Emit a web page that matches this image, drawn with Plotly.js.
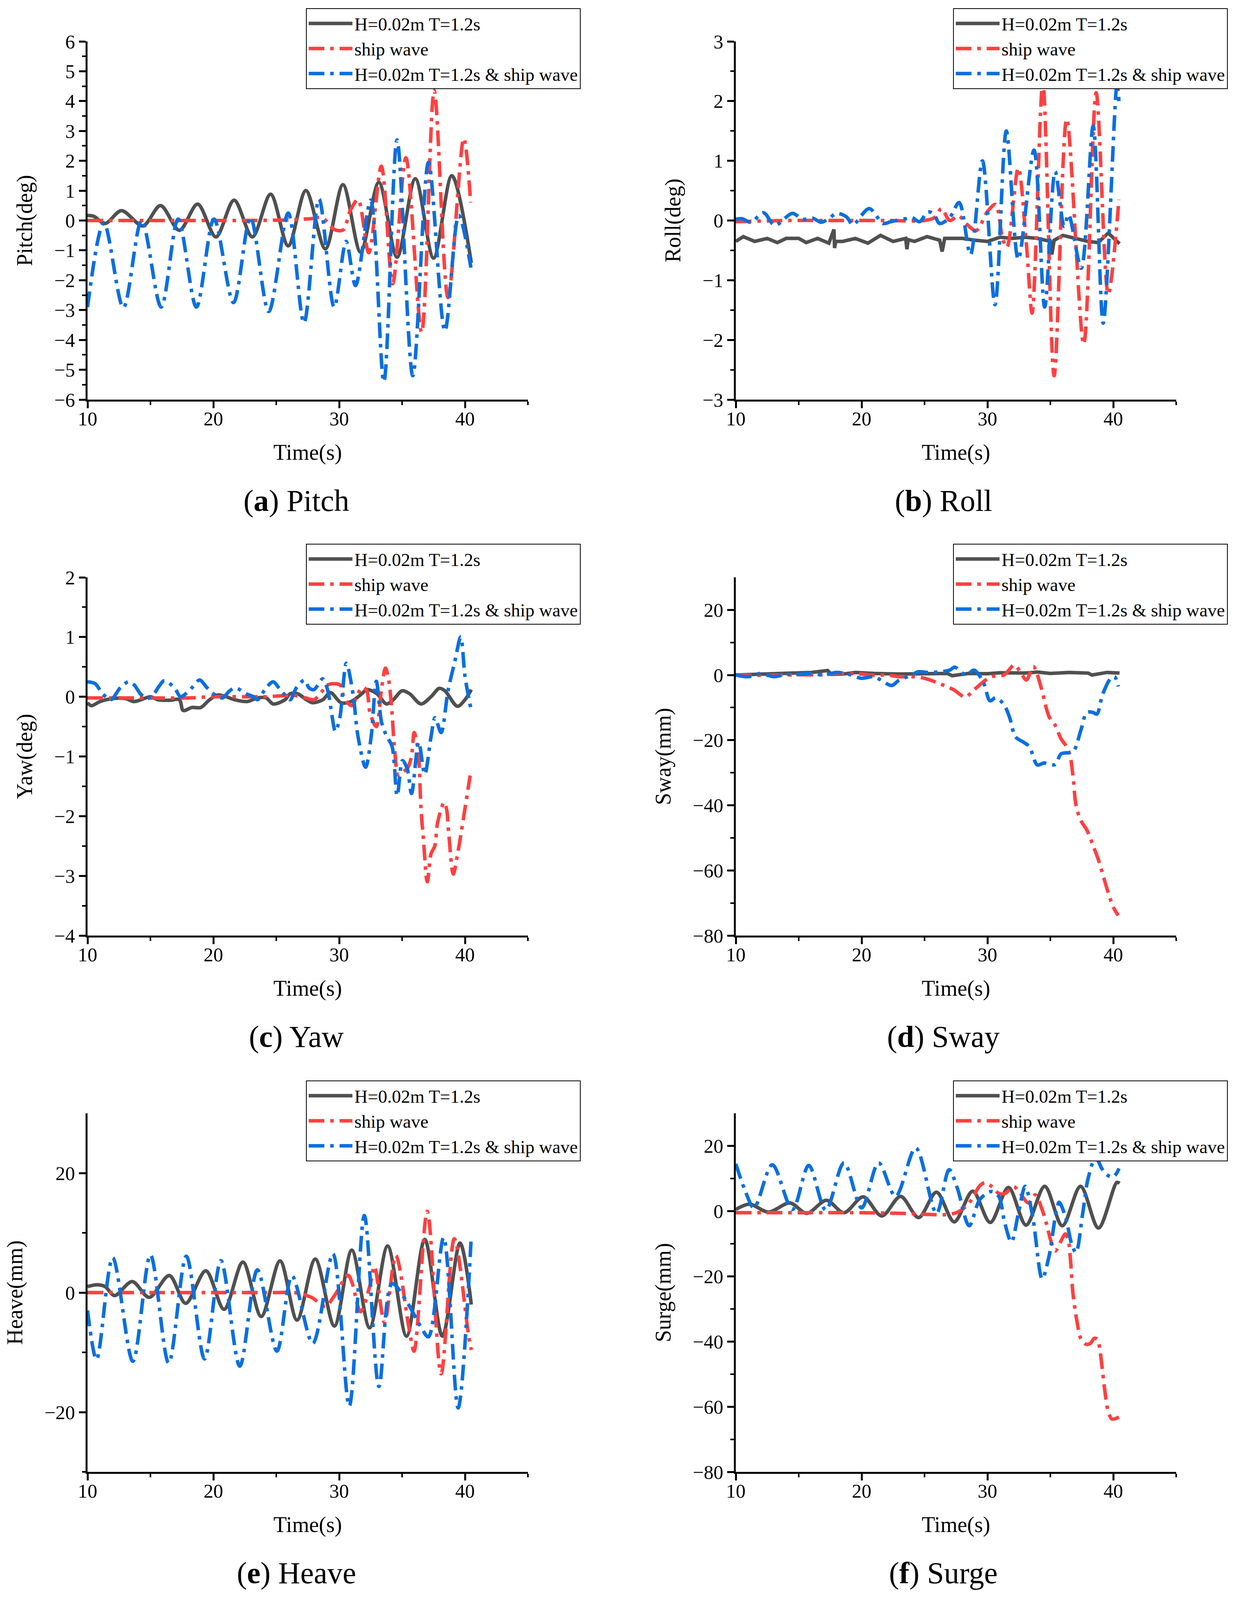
<!DOCTYPE html>
<html>
<head>
<meta charset="utf-8">
<script src="https://cdn.plot.ly/plotly-3.0.1.min.js"></script>
<style>
html,body{margin:0;padding:0;background:#ffffff;}
#chart{width:3181px;height:4097px;}
</style>
</head>
<body>
<div id="chart"></div>
<script>
// ---------- series names ----------
const seriesNames = ['H=0.02m T=1.2s', 'ship wave', 'H=0.02m T=1.2s & ship wave'];

// ---------- (a) Pitch ----------
const pitchRegT = [10, 10.5, 11.4, 12.7, 14.4, 15.8, 17.3, 18.75, 20.2, 21.65, 23.1, 24.55, 25.95, 27.35, 28.9, 30.3, 31.7, 33.15, 34.6, 36.05, 37.5, 38.95, 40.5];
const pitchRegY = [0.17, 0.14, -0.1, 0.33, -0.18, 0.5, -0.33, 0.55, -0.55, 0.68, -0.55, 0.88, -0.85, 1.0, -0.95, 1.2, -1.06, 1.28, -1.23, 1.4, -1.26, 1.5, -1.42];
const pitchShipT = [10, 14, 18, 22, 26, 27.7, 28.6, 29.2, 29.6, 30.3, 30.9, 31.5, 32.35, 33.35, 34.25, 35.3, 36.55, 37.55, 38.65, 39.9, 40.45];
const pitchShipY = [0, 0, 0, 0, 0.02, 0.06, 0.1, -0.12, -0.3, -0.32, 0.35, 0.7, -1.08, 1.82, -2.12, 2.1, -3.75, 4.35, -2.58, 2.75, 0.6];
const pitchCombT = [10, 11.3, 12.85, 14.3, 15.85, 17.2, 18.65, 20.05, 21.6, 22.95, 24.4, 25.95, 27.2, 28.4, 29.6, 30.55, 31.3, 32.5, 33.55, 34.6, 35.85, 37.1, 38.4, 39.5, 40.47];
const pitchCombY = [-2.9, -0.08, -2.92, 0, -2.9, 0.05, -2.9, 0.05, -2.75, 0.1, -3.05, 0.25, -3.43, 0.72, -2.9, -0.7, -2.18, 0.68, -5.4, 2.7, -5.2, 1.95, -3.7, 0.17, -1.58];

// ---------- (b) Roll ----------
const rollRegT = [10, 10.6, 11.5, 12.5, 13.3, 14.0, 15.0, 15.6, 16.5, 17.4, 17.8, 17.85, 17.95, 18.5, 19.5, 20.5, 21.5, 22.5, 23.5, 23.6, 23.7, 24.2, 25.2, 26.2, 26.4, 26.6, 27.0, 28.0, 29.0, 30.0, 31.0, 32.0, 33.0, 34.0, 35.0, 35.12, 35.3, 36.0, 37.0, 38.0, 38.8, 39.6, 40.5];
const rollRegY = [-0.35, -0.27, -0.35, -0.3, -0.37, -0.3, -0.3, -0.37, -0.3, -0.38, -0.15, -0.46, -0.35, -0.35, -0.3, -0.38, -0.25, -0.35, -0.3, -0.48, -0.32, -0.35, -0.27, -0.33, -0.52, -0.3, -0.3, -0.3, -0.33, -0.35, -0.28, -0.3, -0.28, -0.3, -0.35, -0.57, -0.33, -0.25, -0.3, -0.35, -0.37, -0.21, -0.39];
const rollShipT = [10, 14, 18, 22, 25, 25.8, 26.35, 27.0, 27.7, 28.3, 29.1, 30.0, 30.65, 31.2, 31.55, 32.45, 33.1, 33.55, 34.4, 35.3, 36.3, 37.65, 38.64, 39.6, 40.45];
const rollShipY = [-0.02, 0.0, 0.0, 0.0, 0.0, 0.05, 0.2, 0.0, 0.08, -0.05, -0.17, 0.15, 0.27, -0.3, -0.45, 0.88, -0.41, -1.55, 2.3, -2.6, 1.7, -2.07, 2.14, -1.23, 0.35];
const rollCombT = [10, 10.5, 11.2, 12.2, 13.1, 14.5, 15.3, 16.1, 16.8, 17.5, 18.0, 18.8, 19.3, 20.6, 21.7, 22.3, 23.5, 24.0, 24.6, 25.25, 25.7, 26.2, 27.0, 27.75, 28.65, 29.6, 30.6, 31.5, 32.45, 33.7, 34.55, 35.38, 36.1, 36.45, 37.45, 38.4, 39.2, 40.3, 40.45];
const rollCombY = [0.02, 0.03, -0.03, 0.13, -0.08, 0.12, 0.02, 0.04, -0.03, 0.05, 0.12, 0.06, -0.07, 0.2, -0.05, -0.02, 0.03, 0.05, -0.02, 0.14, 0.12, -0.05, 0.05, 0.3, -0.57, 1.0, -1.41, 1.5, -0.65, 1.18, -1.45, 0.82, -0.1, 0.1, -0.8, 1.58, -1.72, 2.3, 2.0];

// ---------- (c) Yaw ----------
const yawRegT = [10, 10.3, 11, 12, 13, 13.7, 14.5, 15, 15.6, 16.5, 17.3, 17.6, 18.3, 19, 19.7, 20.35, 21, 21.7, 22.7, 23.5, 24.2, 24.75, 25.7, 26.1, 26.7, 27.4, 27.9, 28.7, 29.3, 30.15, 30.95, 31.8, 32.2, 33.0, 33.75, 34.3, 35.0, 35.6, 36.5, 37.3, 37.95, 38.4, 39.4, 40.0, 40.5];
const yawRegY = [-0.1, -0.15, -0.08, -0.03, -0.03, -0.08, -0.03, 0, -0.05, -0.06, -0.05, -0.23, -0.18, -0.18, -0.05, 0.03, 0, -0.05, -0.08, -0.02, -0.02, -0.12, -0.05, 0.05, 0.05, -0.05, -0.1, -0.05, 0.07, -0.1, -0.08, 0.05, 0.12, 0.05, -0.12, -0.05, 0.1, 0.05, -0.12, 0.0, 0.14, 0.1, -0.16, -0.05, 0.12];
const yawShipT = [10, 14, 18, 20, 24, 26.5, 27.5, 28.0, 28.6, 29.1, 30.05, 30.4, 31.0, 31.5, 31.9, 32.2, 32.45, 32.95, 33.37, 33.68, 33.95, 34.2, 34.4, 34.7, 35.0, 35.45, 35.75, 35.96, 36.27, 36.5, 36.7, 37.0, 37.3, 37.6, 37.82, 38.34, 38.55, 38.7, 39.07, 39.38, 39.7, 40.0, 40.41];
const yawShipY = [-0.02, -0.02, -0.02, 0, 0, 0.02, -0.03, -0.05, 0.08, 0.2, 0.2, -0.02, -0.15, 0.06, 0.16, 0.1, -0.27, -0.5, 0.14, 0.48, 0.26, -0.27, -0.87, -1.31, -1.27, -1.19, -0.99, -0.6, -0.9, -1.87, -2.4, -3.1, -2.63, -2.5, -2.11, -1.77, -1.9, -2.27, -2.97, -2.67, -2.27, -1.87, -1.32];
const yawCombT = [10, 10.6, 11.2, 11.85, 12.6, 13.25, 13.7, 14.2, 14.7, 15.1, 15.7, 16.1, 16.9, 17.4, 17.8, 18.3, 18.9, 19.5, 20.0, 20.7, 21.3, 21.75, 22.6, 23.2, 23.5, 24.2, 24.75, 25.2, 25.6, 26.1, 26.6, 27.25, 27.6, 28.0, 28.7, 29.1, 29.33, 29.7, 30.05, 30.57, 31.09, 31.5, 32.1, 32.54, 32.95, 33.37, 33.75, 34.2, 34.61, 35.03, 35.4, 35.75, 36.32, 36.8, 37.3, 37.62, 38.1, 38.65, 39.2, 39.66, 40.0, 40.47];
const yawCombY = [0.25, 0.22, 0.05, -0.05, 0.15, 0.25, 0.2, 0.05, -0.03, 0.0, 0.18, 0.27, 0.15, 0.0, 0.05, 0.15, 0.28, 0.15, 0.05, -0.02, 0.1, 0.15, 0.05, 0.0, -0.05, 0.15, 0.25, 0.15, 0.05, -0.05, 0.15, 0.28, 0.15, 0.12, 0.3, 0.1, -0.18, -0.58, -0.35, 0.56, 0.06, -0.67, -1.18, -0.67, 0.26, -0.43, -0.65, -0.83, -1.66, -1.07, -1.2, -1.62, -0.76, -1.3, -0.67, -0.35, -0.6, 0.1, 0.6, 1.0, 0.34, -0.2];

// ---------- (d) Sway ----------
const swayRegT = [10, 12, 14, 16, 17.3, 17.6, 18.5, 19.5, 21, 23, 25, 26.8, 27.2, 28.5, 30, 31, 33, 34, 35, 36.5, 38, 38.3, 39.5, 40.5];
const swayRegY = [0, 0.2, 0.5, 0.8, 1.4, 0.2, 0.3, 0.8, 0.5, 0.3, 0.4, 0.5, -0.2, 0.5, 0.4, 0.7, 0.6, 0.9, 0.5, 0.8, 0.6, 0.0, 0.8, 0.6];
const swayShipT = [10, 13, 15, 17, 18, 20, 21, 22, 23, 24, 25, 26.1, 27.3, 28.25, 28.8, 29.7, 30.3, 31.3, 32.15, 32.6, 33.1, 33.65, 34.28, 34.6, 34.9, 35.38, 35.85, 36.3, 36.57, 36.8, 37.04, 37.4, 37.9, 38.36, 38.84, 39.3, 39.78, 40.1, 40.4];
const swayShipY = [0, -0.1, 0.1, 0.1, 0.5, 0.3, -0.1, 0, -0.5, -0.5, -1.0, -2.5, -4.5, -6.8, -5, -2, -0.5, 0, 3.1, 1, -1.5, 2.6, -4, -9, -12.8, -15.4, -19.6, -22, -24.8, -31, -40, -44.5, -47.6, -52, -57, -63, -69, -72, -73.8];
const swayCombT = [10, 11, 12, 13, 14, 15, 16, 17, 18, 19, 20, 21, 21.7, 22.4, 23, 24, 24.5, 25.3, 26.3, 27.0, 27.4, 28.3, 28.95, 29.7, 30.2, 30.66, 31.3, 31.76, 32.23, 32.86, 33.33, 33.96, 34.5, 35.38, 35.85, 36.8, 37.42, 37.9, 38.4, 38.7, 39.15, 39.78, 40.1, 40.4];
const swayCombY = [0, -0.5, 0.5, -0.5, 0.2, 0.2, 0.5, 0, 0.8, 0.2, -1.0, -0.5, -2, -3.2, -1.5, 0, 1, 0.8, 1, 1.5, 2.4, 0, 1.5, -2.5, -7.9, -7, -9, -13, -19, -20.6, -22, -27.6, -27, -27.5, -24.2, -23.5, -17, -11.5, -11.5, -12, -6, -1.1, -0.5, -3.5];

// ---------- (e) Heave ----------
const heaveRegT = [10, 10.8, 11.4, 12.15, 13.55, 14.9, 16.5, 17.8, 19.4, 20.85, 22.35, 23.8, 25.3, 26.65, 28.1, 29.62, 31.0, 32.42, 33.85, 35.35, 36.8, 38.2, 39.6, 40.5];
const heaveRegY = [1, 1.3, 1.0, -0.5, 1.84, -0.8, 2.86, -1.8, 3.65, -2.8, 5.1, -4.0, 5.3, -4.6, 5.6, -5.6, 7.1, -5.9, 7.8, -7.3, 8.9, -7.3, 8.3, -2];
const heaveShipT = [10, 15, 20, 25, 26.5, 27.8, 28.9, 29.6, 30.7, 31.0, 31.7, 32.45, 32.8, 33.6, 34.5, 35.54, 35.95, 37.0, 38.1, 39.15, 40.3, 40.5];
const heaveShipY = [0, 0, 0, 0, 0, -0.8, -2.3, -0.6, 2.9, 1.8, -3.2, 1.2, 4.4, -5.0, 6.2, -5.8, -9.8, 13.6, -13.6, 9.0, -7.4, -9.6];
const heaveCombT = [10, 10.72, 12.0, 13.6, 15.0, 16.45, 17.85, 19.3, 20.6, 22.1, 23.5, 25.05, 26.25, 27.9, 29.5, 30.8, 32.0, 33.16, 34.2, 35.45, 36.4, 37.1, 38.3, 39.45, 40.5];
const heaveCombY = [-3, -11.2, 5.85, -11.5, 6.3, -11.8, 6.1, -11.1, 5.35, -12.3, 3.8, -9.8, 2.8, -8.5, 6.5, -19.0, 12.9, -15.7, 1.5, -1.8, -5.4, -7.4, 9.2, -19.3, 9.5];

// ---------- (f) Surge ----------
const surgeRegT = [10, 11.1, 12.6, 14.3, 15.65, 17.2, 18.6, 20.13, 21.6, 23.1, 24.53, 25.95, 27.36, 28.83, 30.22, 31.67, 33.07, 34.55, 35.95, 37.4, 38.82, 40.28, 40.5];
const surgeRegY = [0.5, 2.1, -0.3, 2.5, -0.7, 3.3, -0.5, 4.35, -1.5, 4.5, -2, 5.8, -3.3, 6.1, -3.5, 7.25, -4.3, 7.6, -4.5, 7.6, -5.2, 8.8, 8.5];
const surgeShipT = [10, 15, 20, 24, 25, 27, 27.8, 28.6, 29.4, 29.8, 30.36, 30.9, 31.4, 32.07, 32.5, 33.26, 33.8, 34.35, 34.7, 35.07, 35.4, 35.8, 36.2, 36.42, 36.6, 36.8, 37.1, 37.45, 37.87, 38.2, 38.5, 38.76, 38.9, 39.1, 39.3, 39.6, 39.9, 40.45];
const surgeShipY = [-0.5, -0.5, -0.5, -0.8, -1.0, -1.0, 0, 2.8, 7.8, 8.7, 7.5, 5.4, 5.4, 7.5, 6, 2.5, 5, 0.4, -4, -9.5, -12.2, -9.5, -7, -8.8, -15, -25.4, -33.5, -39.4, -40.9, -40.5, -39, -39.4, -41.6, -47.5, -54.2, -61.5, -63.8, -63.2];
const surgeCombT = [10, 10.7, 11.45, 12.9, 14.5, 15.8, 17.15, 18.6, 20.0, 21.35, 22.7, 24.3, 25.95, 26.95, 27.6, 28.55, 29.4, 30.3, 30.9, 31.35, 31.9, 32.48, 33.0, 33.6, 34.35, 34.87, 35.49, 35.7, 36.2, 36.73, 37.04, 37.56, 38.0, 38.6, 39.1, 39.5, 39.94, 40.25, 40.45];
const surgeCombY = [14.5, 6.7, 1.0, 14.2, 0.5, 14, 0.3, 14.8, 1, 14.8, 4.5, 19.4, -0.7, 12.7, 7.1, -4.5, 3.6, 6.0, 4.5, -3.2, -9.5, -0.3, 7.6, -1.8, -20.8, -14.3, 0.4, 2.7, -1.8, -10.6, -12.7, -1, 10, 16.4, 13, 11.1, 10.4, 11.5, 13.1];

// ---------- minor tick positions ----------
const degMinor = [-5.5, -4.5, -3.5, -2.5, -1.5, -0.5, 0.5, 1.5, 2.5, 3.5, 4.5, 5.5];
const mmMinorSway = [-70, -50, -30, -10, 10];
const mmMinorHeave = [-30, -10, 10];
const timeMinor = [15, 25, 35, 45];

// ---------- panel definitions ----------
const panels = [
  {id:'', reg:[pitchRegT,pitchRegY], ship:[pitchShipT,pitchShipY], comb:[pitchCombT,pitchCombY], ytitle:'Pitch(deg)', yrange:[-6,6], dtick:1, tick0:0, minor:degMinor, caption:'(<b>a</b>) Pitch', col:0, row:0, regShape:'spline'},
  {id:'2', reg:[rollRegT,rollRegY], ship:[rollShipT,rollShipY], comb:[rollCombT,rollCombY], ytitle:'Roll(deg)', yrange:[-3,3], dtick:1, tick0:0, minor:degMinor, caption:'(<b>b</b>) Roll', col:1, row:0, regShape:'linear'},
  {id:'3', reg:[yawRegT,yawRegY], ship:[yawShipT,yawShipY], comb:[yawCombT,yawCombY], ytitle:'Yaw(deg)', yrange:[-4,2], dtick:1, tick0:0, minor:degMinor, caption:'(<b>c</b>) Yaw', col:0, row:1, regShape:'spline'},
  {id:'4', reg:[swayRegT,swayRegY], ship:[swayShipT,swayShipY], comb:[swayCombT,swayCombY], ytitle:'Sway(mm)', yrange:[-80,30], dtick:20, tick0:0, minor:mmMinorSway, caption:'(<b>d</b>) Sway', col:1, row:1, regShape:'linear'},
  {id:'5', reg:[heaveRegT,heaveRegY], ship:[heaveShipT,heaveShipY], comb:[heaveCombT,heaveCombY], ytitle:'Heave(mm)', yrange:[-30,30], dtick:20, tick0:0, minor:mmMinorHeave, caption:'(<b>e</b>) Heave', col:0, row:2, regShape:'spline'},
  {id:'6', reg:[surgeRegT,surgeRegY], ship:[surgeShipT,surgeShipY], comb:[surgeCombT,surgeCombY], ytitle:'Surge(mm)', yrange:[-80,30], dtick:20, tick0:0, minor:mmMinorSway, caption:'(<b>f</b>) Surge', col:1, row:2, regShape:'spline'}
];

const W = 3181, H = 4097;
const colX = [[224, 1351], [1883, 3010]];
const rowY = [[106, 1023], [1478, 2395], [2850, 3768]];
const legendLeft = [783, 2439];
const legendTop = [21, 1392, 2766];
const captionX = [758, 2414];
const captionY = [1281, 2653, 4026];

const FONT = '"Liberation Serif", "Times New Roman", serif';
const colors = ['#505050', '#ff4040', '#0a6fe0'];
const dashDot = '40px,15px,9px,15px';

const traces = [];
const layout = {
  width: W, height: H,
  margin: {l:0, r:0, t:0, b:0},
  paper_bgcolor: '#ffffff', plot_bgcolor: '#ffffff',
  font: {family: FONT, color: '#000000', size: 50},
  showlegend: true,
  annotations: []
};

panels.forEach((p, i) => {
  const xa = 'x' + p.id, ya = 'y' + p.id;
  const legName = i === 0 ? 'legend' : 'legend' + (i + 1);
  const sets = [p.reg, p.ship, p.comb];
  sets.forEach((s, k) => {
    traces.push({
      type: 'scatter', mode: 'lines',
      x: s[0], y: s[1],
      xaxis: xa, yaxis: ya,
      name: seriesNames[k],
      legend: legName,
      line: {
        color: colors[k], width: 9,
        dash: k === 0 ? 'solid' : dashDot,
        shape: k === 0 ? p.regShape : 'spline', smoothing: 0.9
      }
    });
  });
  const xd = colX[p.col], yd = rowY[p.row];
  layout['xaxis' + p.id] = {
    domain: [xd[0] / W, xd[1] / W],
    anchor: ya,
    range: [10, 45], dtick: 10, tick0: 10,
    showline: true, linecolor: '#000', linewidth: 5,
    ticks: 'outside', ticklen: 17, tickwidth: 5, tickcolor: '#000',
    minor: {tickmode: 'array', tickvals: timeMinor, ticks: 'outside', ticklen: 9, tickwidth: 4, tickcolor: '#000'},
    showgrid: false, zeroline: false,
    ticklabelstandoff: -16,
    tickfont: {family: FONT, size: 50, color: '#000'},
    title: {text: 'Time(s)', font: {family: FONT, size: 56, color: '#000'}, standoff: 40},
    fixedrange: true
  };
  layout['yaxis' + p.id] = {
    domain: [1 - yd[1] / H, 1 - yd[0] / H],
    anchor: xa,
    range: p.yrange, dtick: p.dtick, tick0: p.tick0,
    showline: true, linecolor: '#000', linewidth: 5,
    ticks: 'outside', ticklen: 17, tickwidth: 5, tickcolor: '#000',
    minor: {tickmode: 'array', tickvals: p.minor, ticks: 'outside', ticklen: 9, tickwidth: 4, tickcolor: '#000'},
    showgrid: false, zeroline: false,
    tickfont: {family: FONT, size: 50, color: '#000'},
    title: {text: p.ytitle, font: {family: FONT, size: 56, color: '#000'}, standoff: 40},
    fixedrange: true
  };
  layout[legName] = {
    x: legendLeft[p.col] / W, y: 1 - legendTop[p.row] / H,
    xanchor: 'left', yanchor: 'top',
    bgcolor: '#ffffff', bordercolor: '#000000', borderwidth: 2,
    font: {family: FONT, size: 47, color: '#000'},
    itemwidth: 112, tracegroupgap: 0,
    traceorder: 'normal'
  };
  layout.annotations.push({
    xref: 'paper', yref: 'paper',
    x: captionX[p.col] / W, y: 1 - captionY[p.row] / H,
    xanchor: 'center', yanchor: 'middle',
    text: p.caption, showarrow: false,
    font: {family: FONT, size: 78, color: '#000'}
  });
});

Plotly.newPlot('chart', traces, layout, {displayModeBar: false, staticPlot: true});
</script>
</body>
</html>
